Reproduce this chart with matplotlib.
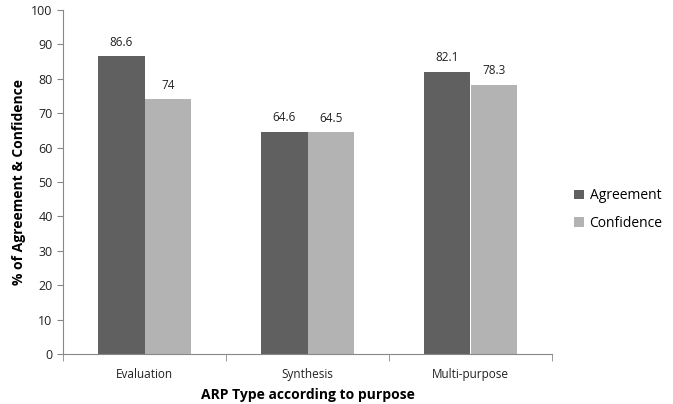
import matplotlib.pyplot as plt
import numpy as np

categories = ['Evaluation', 'Synthesis', 'Multi-purpose']
agreement = [86.6, 64.6, 82.1]
confidence = [74, 64.5, 78.3]
agreement_labels = ['86.6', '64.6', '82.1']
confidence_labels = ['74', '64.5', '78.3']

plt.rcParams['font.family'] = ['Open Sans', 'DejaVu Sans']

fig = plt.figure(figsize=(6.73, 4.04), dpi=100)
ax = fig.add_axes([63 / 673, 1 - 354 / 404, (552 - 63) / 673, (354 - 10) / 404])

x = np.arange(len(categories))
w = 0.285
b1 = ax.bar(x - w / 2, agreement, w, color='#606060', label='Agreement', linewidth=0)
b2 = ax.bar(x + w / 2, confidence, w, color='#b3b3b3', label='Confidence', linewidth=0)

for rect, txt in zip(b1, agreement_labels):
    ax.text(rect.get_x() + rect.get_width() / 2, rect.get_height() + 2.2, txt,
            ha='center', va='bottom', fontsize=8.5, color='#222222')
for rect, txt in zip(b2, confidence_labels):
    ax.text(rect.get_x() + rect.get_width() / 2, rect.get_height() + 2.2, txt,
            ha='center', va='bottom', fontsize=8.5, color='#222222')

ax.set_xlim(-0.5, 2.5)
ax.set_ylim(0, 100)
ax.set_yticks(range(0, 101, 10))
ax.set_xticks(x)
ax.set_xticklabels(categories, fontsize=8.5, color='#222222')
ax.set_xticks([-0.5, 0.5, 1.5, 2.5], minor=True)
ax.tick_params(axis='x', which='major', length=0, pad=10)
ax.tick_params(axis='x', which='minor', length=5, color='#888888')
ax.tick_params(axis='y', length=4, color='#888888', labelsize=9, labelcolor='#222222')

for s in ['top', 'right']:
    ax.spines[s].set_visible(False)
for s in ['left', 'bottom']:
    ax.spines[s].set_color('#888888')
    ax.spines[s].set_linewidth(0.8)

ax.set_xlabel('ARP Type according to purpose', fontsize=10, fontweight='bold', labelpad=5)
ax.set_ylabel('% of Agreement & Confidence', fontsize=10, fontweight='bold', labelpad=4)

ax.legend(loc='center left', bbox_to_anchor=(1.02, 0.42), frameon=False,
          fontsize=10, handlelength=0.7, handleheight=0.7, handletextpad=0.4,
          labelspacing=0.9)

fig.savefig('out.png', dpi=100)
